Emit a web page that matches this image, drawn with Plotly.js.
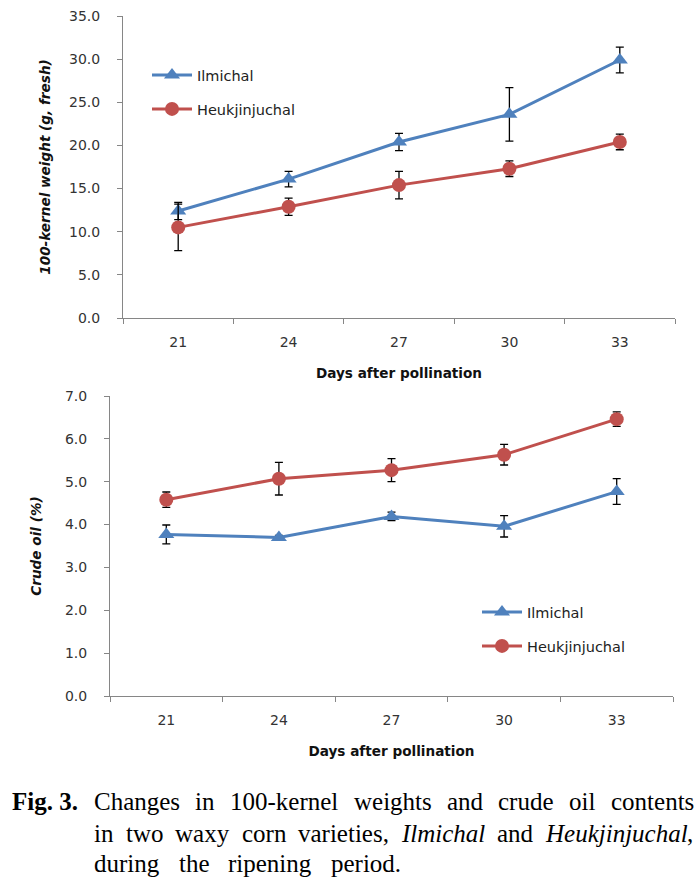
<!DOCTYPE html>
<html>
<head>
<meta charset="utf-8">
<script src="https://cdn.plot.ly/plotly-3.0.1.min.js"></script>
<style>html,body{margin:0;padding:0;background:#fff;}#chart{width:700px;height:882px;}</style>
</head>
<body>
<div id="chart"></div>
<script>
// ---- data ----
const days = ["21", "24", "27", "30", "33"];
const seriesNames = ["Ilmichal", "Heukjinjuchal"];

const weightIlmichal = [12.4, 16.1, 20.4, 23.6, 29.9];
const weightIlmichalErr = [1.0, 0.9, 1.0, 3.1, 1.5];
const weightHeuk = [10.5, 12.9, 15.4, 17.3, 20.4];
const weightHeukErr = [2.7, 1.0, 1.6, 0.9, 0.9];

const oilIlmichal = [3.77, 3.70, 4.19, 3.96, 4.77];
const oilIlmichalErr = [0.22, 0.05, 0.1, 0.25, 0.30];
const oilHeuk = [4.58, 5.07, 5.27, 5.63, 6.46];
const oilHeukErr = [0.18, 0.38, 0.27, 0.24, 0.17];

const weightTicks = [0, 5, 10, 15, 20, 25, 30, 35];
const oilTicks = [0, 1, 2, 3, 4, 5, 6, 7];

const xTitle = "Days after pollination";
const weightTitle = "100-kernel weight (g, fresh)";
const oilTitle = "Crude oil (%)";

const captionLabel = "Fig. 3.";
const captionLines = [
  [["Changes", false], ["in", false], ["100-kernel", false], ["weights", false], ["and", false], ["crude", false], ["oil", false], ["contents", false]],
  [["in", false], ["two", false], ["waxy", false], ["corn", false], ["varieties,", false], ["Ilmichal", true], ["and", false], ["Heukjinjuchal", true], [",", false, true]],
  [["during", false], ["the", false], ["ripening", false], ["period.", false]]
];

// ---- styles ----
const W = 700, H = 882;
const BLUE = "#4F81BD", RED = "#C0504D";
const tickFont = {family: "DejaVu Sans", size: 14, color: "#333"};
const titleFont = {family: "DejaVu Sans", size: 13.6, color: "#111", weight: "bold"};
const legendFont = {family: "DejaVu Sans", size: 14.5, color: "#222"};
const capFont = "Liberation Serif";
const capSize = 25;

function px(x) { return x / W; }
function py(y) { return 1 - y / H; }

function mkTrace(name, x, y, err, color, symbol, msize, xa, ya, leg) {
  return {
    type: "scatter", mode: "lines+markers", name: name, x: x, y: y,
    xaxis: xa, yaxis: ya, legend: leg,
    line: {color: color, width: 3},
    marker: {color: color, symbol: symbol, size: msize},
    error_y: {type: "data", array: err, visible: true, color: "#000", thickness: 1.3, width: 4},
    cliponaxis: false
  };
}

const traces = [
  mkTrace(seriesNames[0], days, weightIlmichal, weightIlmichalErr, BLUE, "triangle-up", 14, "x", "y", "legend"),
  mkTrace(seriesNames[1], days, weightHeuk, weightHeukErr, RED, "circle", 14, "x", "y", "legend2"),
  mkTrace(seriesNames[0], days, oilIlmichal, oilIlmichalErr, BLUE, "triangle-up", 14, "x2", "y2", "legend3"),
  mkTrace(seriesNames[1], days, oilHeuk, oilHeukErr, RED, "circle", 14, "x2", "y2", "legend4")
];

function xAxis(domain, anchor) {
  return {
    domain: domain, anchor: anchor, type: "category", range: [-0.5, 4.5],
    tickson: "boundaries", ticks: "outside", ticklen: 5, tickcolor: "#868686", tickwidth: 1,
    showline: true, linecolor: "#868686", linewidth: 1, showgrid: false, zeroline: false,
    tickfont: tickFont, ticklabelstandoff: 11,
    title: {text: xTitle, font: titleFont, standoff: 19},
    fixedrange: true
  };
}
function yAxis(domain, anchor, ticks, title, standoff) {
  return {
    domain: domain, anchor: anchor, range: [ticks[0], ticks[ticks.length - 1]],
    tickvals: ticks, tickformat: ".1f", ticks: "outside", ticklen: 5, tickcolor: "#868686", tickwidth: 1,
    showline: true, linecolor: "#868686", linewidth: 1, showgrid: false, zeroline: false,
    tickfont: tickFont, ticklabelstandoff: 14,
    title: {text: title, font: Object.assign({}, titleFont, {style: "italic"}), standoff: standoff},
    fixedrange: true
  };
}

function legendAt(x, y) {
  return {x: px(x), y: py(y), xanchor: "left", yanchor: "middle", xref: "paper", yref: "paper",
    bgcolor: "rgba(0,0,0,0)", borderwidth: 0, font: legendFont, itemwidth: 40,
    itemclick: false, itemdoubleclick: false};
}

// ---- caption (justified words) ----
const canvas = document.createElement("canvas");
const ctx = canvas.getContext("2d");
function measure(text, italic) {
  ctx.font = (italic ? "italic " : "") + capSize + "px '" + capFont + "'";
  return ctx.measureText(text).width;
}
const annotations = [];
annotations.push({text: "<b>" + captionLabel + "</b>", xref: "paper", yref: "paper",
  x: px(11), y: py(801), xanchor: "left", yanchor: "middle", showarrow: false,
  font: {family: capFont, size: capSize, color: "#000"}, borderpad: 0});
const lineY = [801, 833, 863];
const lineRight = [693, 692, 400];
const lineLeft = 93;
captionLines.forEach(function (words, li) {
  const widths = words.map(function (w) { return measure(w[0], w[1]); });
  const gaps = words.filter(function (w, i) { return i > 0 && !w[2]; }).length;
  const total = widths.reduce(function (a, b) { return a + b; }, 0);
  const gap = (lineRight[li] - lineLeft - total) / gaps;
  let x = lineLeft;
  words.forEach(function (w, i) {
    if (i > 0 && !w[2]) x += gap;
    annotations.push({text: w[1] ? "<i>" + w[0] + "</i>" : w[0], xref: "paper", yref: "paper",
      x: px(x), y: py(lineY[li]), xanchor: "left", yanchor: "middle", showarrow: false,
      font: {family: capFont, size: capSize, color: "#000"}, borderpad: 0});
    x += widths[i];
  });
});

const layout = {
  width: W, height: H, margin: {l: 0, r: 0, t: 0, b: 0},
  paper_bgcolor: "#fff", plot_bgcolor: "rgba(0,0,0,0)",
  showlegend: true,
  xaxis: xAxis([px(123), px(675)], "y"),
  yaxis: yAxis([py(318), py(16)], "x", weightTicks, weightTitle, 15),
  xaxis2: xAxis([px(110), px(673)], "y2"),
  yaxis2: yAxis([py(696), py(396)], "x2", oilTicks, oilTitle, 20),
  legend: legendAt(147, 75),
  legend2: legendAt(147, 109),
  legend3: legendAt(477, 612),
  legend4: legendAt(477, 646),
  annotations: annotations
};

document.fonts && document.fonts.load(capSize + "px '" + capFont + "'").then(draw, draw);
function draw() {
  Plotly.newPlot("chart", traces, layout, {displayModeBar: false, staticPlot: true});
}
</script>
</body>
</html>
